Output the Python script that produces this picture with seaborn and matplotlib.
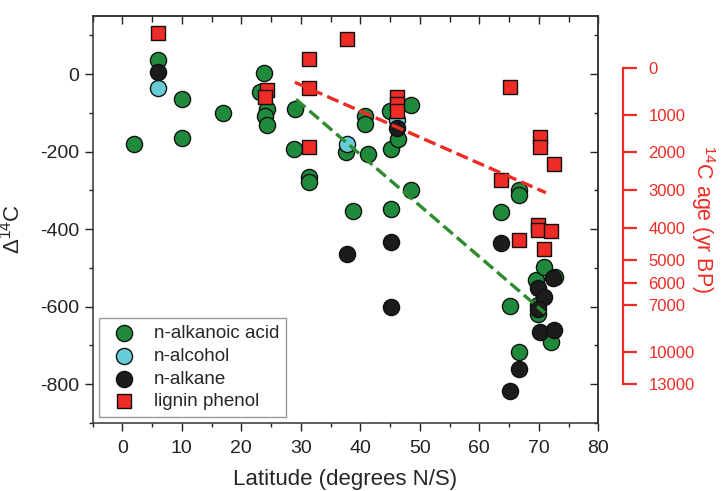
import matplotlib
matplotlib.use("Agg")
import matplotlib.pyplot as plt
from matplotlib.ticker import MultipleLocator
import seaborn as sns
import pandas as pd

sns.set_style("ticks")
plt.rcParams['font.family'] = ['Liberation Sans', 'DejaVu Sans']
plt.rcParams['mathtext.fontset'] = 'custom'
plt.rcParams['mathtext.rm'] = 'Liberation Sans'
plt.rcParams['mathtext.it'] = 'Liberation Sans:italic'
plt.rcParams['axes.unicode_minus'] = False

# ---- data (latitude, Δ14C) ----
acid_lat = [1.9, 6.05, 10.1, 10.1, 16.9, 23.1, 23.9, 24.4, 24.0, 24.3, 29.0, 28.9, 31.3, 31.3,
            37.6, 38.7, 40.8, 40.8, 41.3, 45.0, 45.2, 45.2, 46.3, 48.5, 48.5, 63.6, 65.2, 66.6,
            66.6, 66.6, 69.5, 69.9, 69.9, 70.9, 72.8, 72.0]
acid_d14c = [-181, 36, -65, -166, -101, -46, 3, -89, -108, -132, -91, -192, -265, -278,
             -200, -352, -108, -129, -207, -94, -193, -348, -167, -80, -300, -355, -599, -298,
             -312, -718, -532, -596, -618, -498, -523, -692]

alcohol_lat = [6.05, 37.7, 46.1]
alcohol_d14c = [-37, -181, -119]

alkane_lat = [6.05, 37.7, 45.2, 45.2, 46.1, 63.6, 65.2, 66.6, 69.9, 70.8, 69.9, 70.2, 72.4, 72.6]
alkane_d14c = [6, -463, -434, -600, -140, -435, -817, -760, -552, -575, -607, -665, -525, -660]

lignin_lat = [6.05, 24.3, 24.0, 31.3, 31.3, 31.3, 37.7, 46.1, 46.1, 46.1, 63.6, 65.2, 66.6,
              69.8, 69.9, 70.2, 70.2, 70.9, 72.0, 72.6]
lignin_d14c = [105, -41, -60, 40, -35, -188, 90, -58, -76, -95, -272, -34, -428,
               -390, -401, -163, -188, -451, -404, -231]

# regression lines (endpoints)
lignin_fit_lat = [29.0, 71.2]
lignin_fit_d14c = [-21, -306]
acid_fit_lat = [29.2, 71.0]
acid_fit_d14c = [-65, -616]

# right axis: radiocarbon age labels and their Δ14C positions
age_labels = ['0', '1000', '2000', '3000', '4000', '5000', '6000', '7000', '10000', '13000']
age_tick_d14c = [16, -106, -200, -299, -398, -480, -538, -596, -716, -800]

GREEN = '#1f8a3b'
CYAN = '#66ccd8'
BLACK = '#1c1c1c'
RED = '#ee2b24'
LINE_GREEN = '#2e8b2e'

fig = plt.figure(figsize=(7.23, 4.91), dpi=100)
ax = fig.add_axes([0.128, 0.1385, 0.6995, 0.829])

groups = [
    ('n-alkanoic acid', acid_lat, acid_d14c, GREEN, 'o', 135),
    ('n-alcohol', alcohol_lat, alcohol_d14c, CYAN, 'o', 135),
    ('n-alkane', alkane_lat, alkane_d14c, BLACK, 'o', 135),
    ('lignin phenol', lignin_lat, lignin_d14c, RED, 's', 105),
]
for i, (name, xs, ys, col, mk, sz) in enumerate(groups):
    df = pd.DataFrame({'lat': xs, 'd14c': ys})
    sns.scatterplot(data=df, x='lat', y='d14c', ax=ax, color=col, marker=mk, s=sz,
                    edgecolor='#111111', linewidth=1.0, label=name, zorder=3 + i)

sns.lineplot(x=lignin_fit_lat, y=lignin_fit_d14c, ax=ax, color=RED, linewidth=2.4,
             linestyle='--', zorder=10, legend=False)
sns.lineplot(x=acid_fit_lat, y=acid_fit_d14c, ax=ax, color=LINE_GREEN, linewidth=2.4,
             linestyle='--', zorder=10, legend=False)

ax.set_xlim(-5, 80)
ax.set_ylim(-900, 150)
ax.set_xticks(range(0, 81, 10))
ax.xaxis.set_minor_locator(MultipleLocator(5))
ax.set_yticks(range(-800, 1, 200))
ax.yaxis.set_minor_locator(MultipleLocator(100))
ax.tick_params(which='major', direction='out', length=6, width=1, labelsize=14, colors='#222222')
ax.tick_params(which='minor', direction='out', length=3, width=1, colors='#222222')
ax.tick_params(axis='x', which='major', pad=6)
for sp in ax.spines.values():
    sp.set_linewidth(1.1)
    sp.set_color('#333333')

ax.set_xlabel('Latitude (degrees N/S)', fontsize=16, labelpad=9)
ax.set_ylabel('Δ$\\mathregular{^{14}}$C', fontsize=16)
ax.yaxis.set_label_coords(-0.134, 0.477)

# inward mirrored ticks on top and right frame
secx = ax.secondary_xaxis('top')
secx.set_xticks(range(0, 81, 10))
secx.xaxis.set_minor_locator(MultipleLocator(5))
secx.tick_params(which='both', direction='in', labeltop=False, width=1, colors='#222222')
secx.tick_params(which='major', length=6)
secx.tick_params(which='minor', length=4)
secx.spines['top'].set_linewidth(1.1)
secx.spines['top'].set_color('#333333')
secy = ax.secondary_yaxis('right')
secy.set_yticks(range(-800, 1, 200))
secy.yaxis.set_minor_locator(MultipleLocator(100))
secy.tick_params(which='both', direction='in', labelright=False, width=1, colors='#222222')
secy.tick_params(which='major', length=6)
secy.tick_params(which='minor', length=3)
secy.spines['right'].set_linewidth(1.1)
secy.spines['right'].set_color('#333333')

# red radiocarbon-age axis
ax2 = ax.twinx()
ax2.set_ylim(ax.get_ylim())
for s in ['top', 'left', 'bottom']:
    ax2.spines[s].set_visible(False)
ax2.spines['right'].set_position(('outward', 18))
ax2.spines['right'].set_bounds(age_tick_d14c[-1], age_tick_d14c[0])
ax2.spines['right'].set_color(RED)
ax2.spines['right'].set_linewidth(1.6)
ax2.set_yticks(age_tick_d14c, labels=age_labels)
ax2.yaxis.set_minor_locator(plt.NullLocator())
ax2.tick_params(axis='y', direction='out', length=10, width=1.6, colors=RED, labelsize=12, pad=8)
ax2.set_ylabel('$\\mathregular{^{14}}$C age (yr BP)', fontsize=15.5, color=RED, rotation=270,
               labelpad=16)

ax.legend(loc='lower left', bbox_to_anchor=(0.012, 0.015), borderaxespad=0, fontsize=13.5,
          frameon=True, fancybox=False, edgecolor='#999999', framealpha=1,
          labelspacing=0.3, handletextpad=0.6, borderpad=0.35, markerscale=1.0)

fig.savefig('out.png', dpi=100)
